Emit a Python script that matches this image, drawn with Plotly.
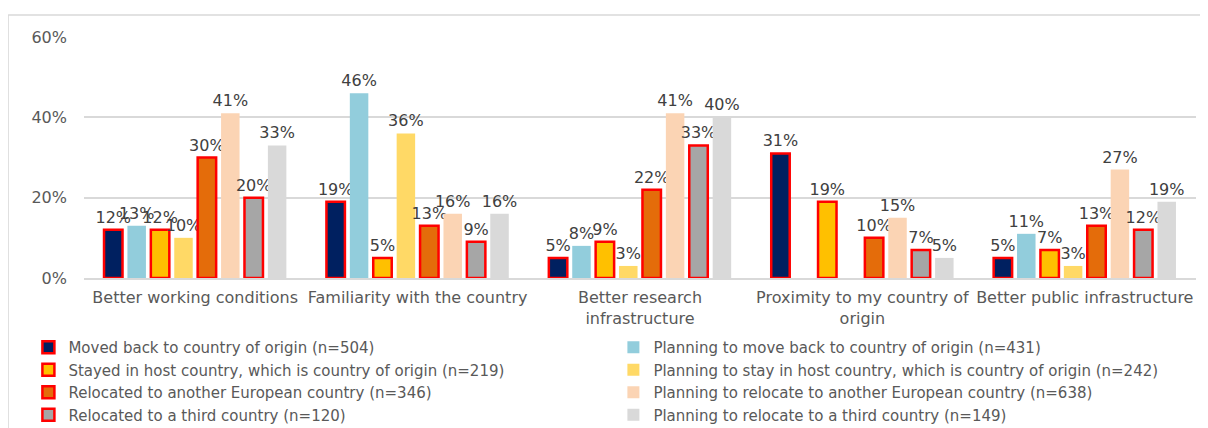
import plotly.graph_objects as go

categories = [
    "Better working conditions",
    "Familiarity with the country",
    "Better research<br>infrastructure",
    "Proximity to my country of<br>origin",
    "Better public infrastructure",
]

series_names = [
    "Moved back to country of origin (n=504)",
    "Planning to move back to country of origin (n=431)",
    "Stayed in host country, which is country of origin (n=219)",
    "Planning to stay in host country, which is country of origin (n=242)",
    "Relocated to another European country (n=346)",
    "Planning to relocate to another European country (n=638)",
    "Relocated to a third country (n=120)",
    "Planning to relocate to a third country (n=149)",
]

moved_back = [12, 19, 5, 31, 5]
plan_move_back = [13, 46, 8, None, 11]
stayed_host = [12, 5, 9, 19, 7]
plan_stay_host = [10, 36, 3, None, 3]
relocated_europe = [30, 13, 22, 10, 13]
plan_relocate_europe = [41, 16, 41, 15, 27]
relocated_third = [20, 9, 33, 7, 12]
plan_relocate_third = [33, 16, 40, 5, 19]

values = [moved_back, plan_move_back, stayed_host, plan_stay_host,
          relocated_europe, plan_relocate_europe, relocated_third, plan_relocate_third]

colors = ["#002060", "#92CDDC", "#FFC000", "#FFD966",
          "#E46C0A", "#FBD4B4", "#A6A6A6", "#D9D9D9"]
outlined = [True, False, True, False, True, False, True, False]

font_family = "Verdana, DejaVu Sans, sans-serif"

fig = go.Figure()
for name, vals, col, outl in zip(series_names, values, colors, outlined):
    fig.add_trace(go.Bar(
        x=categories,
        y=[v / 100 if v is not None else None for v in vals],
        name=name,
        marker=dict(color=col, line=dict(color="#FF0000" if outl else col, width=2.5 if outl else 0)),
        text=[f"{v}%" if v is not None else "" for v in vals],
        textposition="outside",
        textfont=dict(color="#404040", size=16, family=font_family),
        constraintext="none",
        cliponaxis=False,
    ))

# chart frame (top and left edges, as in the source)
fig.add_shape(type="line", xref="paper", yref="paper",
              x0=-0.0683, x1=1.011, y0=1.0913, y1=1.0913,
              line=dict(color="#D9D9D9", width=1.5))
fig.add_shape(type="line", xref="paper", yref="paper",
              x0=-0.0683, x1=-0.0683, y0=1.0913, y1=-0.63,
              line=dict(color="#D9D9D9", width=1.5))

# page body has an 8px margin, so the figure is 8px smaller on each side
fig.update_layout(
    width=1200, height=420,
    margin=dict(l=76, r=12, t=29, b=150, autoexpand=False),
    barmode="group", bargap=0.158, bargroupgap=0.21,
    plot_bgcolor="white", paper_bgcolor="white",
    font=dict(family=font_family, size=16, color="#595959"),
    legend=dict(
        orientation="h", x=-0.05, xanchor="left", y=-0.22, yanchor="top",
        entrywidth=540, entrywidthmode="pixels",
        font=dict(size=15, color="#595959"), itemwidth=30,
        tracegroupgap=0, traceorder="normal",
    ),
    showlegend=True,
)
fig.update_yaxes(range=[0, 0.6], tickvals=[0, 0.2, 0.4, 0.6], tickformat=".0%",
                 showgrid=True, gridcolor="#D9D9D9", gridwidth=1.5,
                 zeroline=False, showline=False, ticks="", ticklabelstandoff=16,
                 tickfont=dict(size=16, color="#595959"))
fig.update_xaxes(showline=True, linecolor="#D9D9D9", linewidth=1.5, ticks="",
                 ticklabelstandoff=4,
                 tickfont=dict(size=16, color="#595959"))

fig.write_html("out.html")
